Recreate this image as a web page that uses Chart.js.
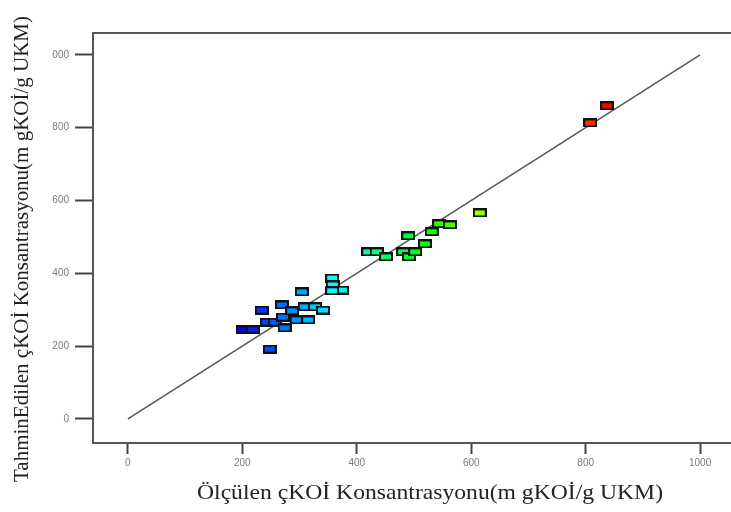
<!DOCTYPE html>
<html><head><meta charset="utf-8">
<script src="https://cdn.jsdelivr.net/npm/chart.js@4.4.1/dist/chart.umd.min.js"></script>
<style>html,body{margin:0;padding:0;background:#fff}canvas{display:block}</style>
</head><body>
<canvas id="c" width="731" height="512"></canvas>
<script>
// Measured (Ölçülen) values
const measured = [201,219,234,243,257,248,269,271,274,287,295,304,309,315,327,341,357,358,374,357,420,435,451,481,491,502,490,519,531,544,563,615,808,837];
// Predicted (Tahmin Edilen) values
const predicted = [245,245,299,266,266,192,313,280,250,297,272,349,308,272,308,299,387,368,354,352,459,459,445,459,445,459,503,481,514,536,533,566,813,860];
const lineX = [0,1000];
const lineY = [0,1000];
const xTicks = [0,200,400,600,800,1000];
const yTicks = [0,200,400,600,800,1000];
const xTickLabels = ['0','200','400','600','800','1000'];
const yTickLabels = ['0','200','400','600','800','000'];
const xTitle = 'Ölçülen çKOİ Konsantrasyonu(m gKOİ/g UKM)';
const yTitle = 'TahminEdilen çKOİ Konsantrasyonu(m gKOİ/g UKM)';

function jet(t){
  const stops=[[0,0,255],[0,255,255],[0,255,0],[255,255,0],[255,0,0]];
  t=Math.max(0,Math.min(1,t))*4; const i=Math.min(3,Math.floor(t)); const f=t-i;
  const a=stops[i],b=stops[i+1];
  return 'rgb('+a.map((v,k)=>Math.round(v+(b[k]-v)*f)).join(',')+')';
}
const mn=Math.min(...measured), mx=Math.max(...measured);
const cache={};
function rectImg(color){
  if(cache[color]) return cache[color];
  const c=document.createElement('canvas'); c.width=14; c.height=9;
  const g=c.getContext('2d');
  g.fillStyle='#111'; g.fillRect(0,0,14,9);
  g.fillStyle=color; g.fillRect(2,2,10,5);
  cache[color]=c; return c;
}
const pts = measured.map((v,i)=>({x:v,y:predicted[i]}));
const frame = {id:'frame', afterDraw(ch){
  const a=ch.chartArea,g=ch.ctx;g.save();
  g.strokeStyle='#555';g.lineWidth=2;g.beginPath();g.moveTo(a.left-1,a.top);g.lineTo(ch.width,a.top);g.stroke();
  g.fillStyle='#222';g.textAlign='center';g.textBaseline='middle';
  g.font='21px "Liberation Serif"';
  let w=g.measureText(xTitle).width;
  g.save();g.translate(430,493);g.scale(466/w,1);g.fillText(xTitle,0,0);g.restore();
  g.font='21px "Liberation Serif"';
  w=g.measureText(yTitle).width;
  g.save();g.translate(22,249);g.rotate(-Math.PI/2);g.scale(466/w,1);g.fillText(yTitle,0,0);g.restore();
  g.restore();}};
new Chart(document.getElementById('c'),{
  type:'scatter',
  data:{datasets:[
    {type:'line',data:lineX.map((v,i)=>({x:v,y:lineY[i]})),borderColor:'#555',borderWidth:1.5,pointRadius:0,fill:false,order:2},
    {data:pts,pointStyle:ctx=>rectImg(jet((ctx.raw?ctx.raw.x-mn:0)/(mx-mn))),pointRadius:6,order:1}
  ]},
  options:{
    responsive:false,animation:false,
    layout:{autoPadding:false,padding:{top:33,left:0,right:0,bottom:0}},
    plugins:{legend:{display:false},tooltip:{enabled:false}},
    scales:{
      x:{type:'linear',min:-61,max:1054,
        afterBuildTicks:s=>{s.ticks=xTicks.map(v=>({value:v}));},
        afterFit:s=>{s.height=69;s.paddingLeft=0;s.paddingRight=0;},
        grid:{drawOnChartArea:false,drawTicks:true,tickLength:11,tickColor:'#444',tickWidth:2},
        border:{display:true,color:'#555',width:2},
        ticks:{color:'#7a7a7a',font:{family:'Liberation Sans',size:10},padding:3,maxRotation:0,
          callback:(v)=>{const i=xTicks.indexOf(v);return i>=0?xTickLabels[i]:'';}}
      },
      y:{type:'linear',min:-66,max:1060,
        afterBuildTicks:s=>{s.ticks=yTicks.map(v=>({value:v}));},
        afterFit:s=>{s.width=93;s.paddingTop=0;s.paddingBottom=0;},
        grid:{drawOnChartArea:false,drawTicks:true,tickLength:18,tickColor:'#444',tickWidth:2},
        border:{display:true,color:'#555',width:2},
        ticks:{color:'#7a7a7a',font:{family:'Liberation Sans',size:10},padding:6,
          callback:(v)=>{const i=yTicks.indexOf(v);return i>=0?yTickLabels[i]:'';}}
      }
    }
  },
  plugins:[frame]
});
</script>
</body></html>
